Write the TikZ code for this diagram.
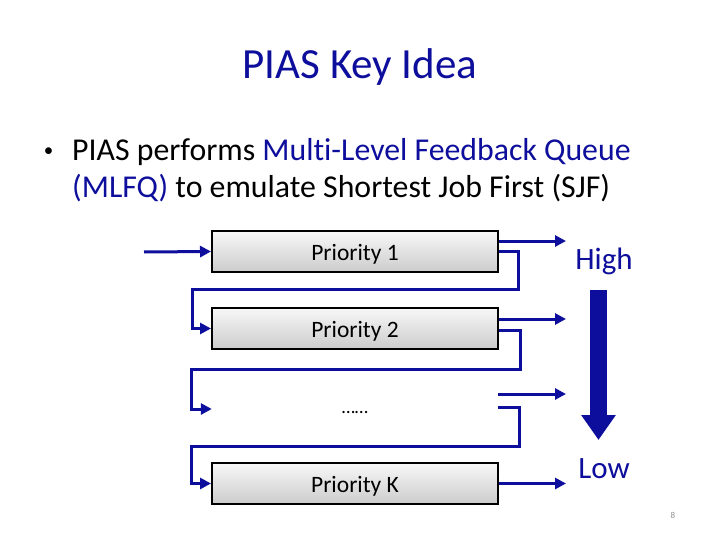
\documentclass[tikz,border=0pt]{standalone}
\usepackage{fontspec}
\setmainfont{Carlito}[Ligatures=NoCommon]
\usetikzlibrary{arrows.meta,positioning,calc}
\definecolor{piasblue}{HTML}{0E0E9C}
\definecolor{piasgray}{HTML}{8C8C8C}

\begin{document}
\begin{tikzpicture}[
    x=1pt, y=-1pt,
    queue/.style={
        draw=black,
        top color=gray!6,
        bottom color=gray!40,
        minimum width=286pt,
        minimum height=41pt,
        line width=2pt,
        text height=19pt,
        text depth=2pt,
        font=\fontsize{23.5}{28}\selectfont
    },
    bodytext/.style={anchor=base west,inner sep=0pt,font=\fontsize{31.8}{38}\selectfont},
    level/.style={text=piasblue,font=\fontsize{31}{36}\selectfont},
    flow/.style={-{Triangle[length=11pt,width=11pt]},draw=piasblue,line width=3pt}
]
\useasboundingbox (0,0) rectangle (720,540);

% Title and bullet text
\node[text=piasblue,font=\fontsize{43}{50}\selectfont] (title) at (360,67) {PIAS Key Idea};
\node[anchor=center,inner sep=0pt,font=\fontsize{19}{22}\selectfont] (dot) at (48.5,152) {•};
\node[bodytext] (line1) at (72,161) {PIAS performs \textcolor{piasblue}{Multi-Level Feedback Queue}};
\node[bodytext] (line2) at (72,198) {\textcolor{piasblue}{(MLFQ)} to emulate Shortest Job First (SJF)};

% The queues
\node[queue] (p1) at (355,251.5) {Priority 1};
\node[queue] (p2) at (355,328.5) {Priority 2};
\node[minimum width=286pt,minimum height=41pt,text height=18pt,text depth=0pt,
      font=\fontsize{19}{22}\selectfont] (pdots) at (355,404) {……};
\node[queue] (pk) at (355,483.5) {Priority K};

% Arrival
\coordinate (arrive) at (144,252);
\draw[flow] (arrive) -- (p1.west);

% Dequeue towards the output
\coordinate (out1) at (566,241);
\coordinate (out2) at (566,319);
\coordinate (outd) at (566,394);
\coordinate (outk) at (566,483.5);
\draw[flow] (p1.east |- out1) -- (out1);
\draw[flow] (p2.east |- out2) -- (out2);
\draw[flow] (pdots.east |- outd) -- (outd);
\draw[flow] (pk.east) -- (outk);

% Demotion to the next level
\draw[flow] (p1.east) -| ($(p1.east)+(19,38)$) -| ($(p2.west)+(-19,0)$) -- (p2.west);
\draw[flow] ($(p2.east)+(0,1.5)$) -| ($(p2.east)+(21,41)$) -| ($(pdots.west)+(-20,5)$) -- ($(pdots.west)+(0,5)$);
\draw[flow] ($(pdots.east)+(0,3)$) -| ($(pdots.east)+(21,42)$) -| ($(pk.west)+(-20,0)$) -- (pk.west);

% Priority scale
\node[level] (high) at (604,261) {High};
\node[level] (low) at (604,469) {Low};
\coordinate (scaletop) at (598.5,290);
\coordinate (scalebot) at (598.5,440);
\draw[piasblue,line width=17pt,-{Triangle[length=25pt,width=33pt]}] (scaletop) -- (scalebot);

% Slide number
\node[text=piasgray,font=\fontsize{9}{10}\selectfont] (pageno) at (673,515) {8};

\end{tikzpicture}
\end{document}
